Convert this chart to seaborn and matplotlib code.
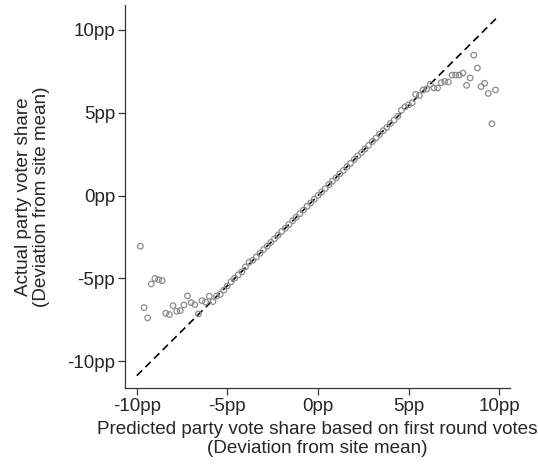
import pandas as pd
import matplotlib.pyplot as plt
import seaborn as sns

# binned predicted share (x) and actual share (y), in pp
pred_share = [-9.8, -9.6, -9.4, -9.2, -9.0, -8.8, -8.6, -8.4, -8.2, -8.0,
              -7.8, -7.6, -7.4, -7.2, -7.0, -6.8, -6.6, -6.4, -6.2, -6.0,
              -5.8, -5.6, -5.4, -5.2, -5.0, -4.8, -4.6, -4.4, -4.2, -4.0,
              -3.8, -3.6, -3.4, -3.2, -3.0, -2.8, -2.6, -2.4, -2.2, -2.0,
              -1.8, -1.6, -1.4, -1.2, -1.0, -0.8, -0.6, -0.4, -0.2, 0.0,
              0.2, 0.4, 0.6, 0.8, 1.0, 1.2, 1.4, 1.6, 1.8, 2.0,
              2.2, 2.4, 2.6, 2.8, 3.0, 3.2, 3.4, 3.6, 3.8, 4.0,
              4.2, 4.4, 4.6, 4.8, 5.0, 5.2, 5.4, 5.6, 5.8, 6.0,
              6.2, 6.4, 6.6, 6.8, 7.0, 7.2, 7.4, 7.6, 7.8, 8.0,
              8.2, 8.4, 8.6, 8.8, 9.0, 9.2, 9.4, 9.6, 9.8]
actual_share = [-3.05, -6.76, -7.38, -5.33, -5.0, -5.07, -5.13, -7.1, -7.18, -6.64,
                -6.98, -6.94, -6.6, -6.05, -6.46, -6.58, -7.14, -6.34, -6.42, -6.07,
                -6.4, -6.06, -5.96, -5.7, -5.45, -5.2, -4.98, -4.78, -4.6, -4.3,
                -4.02, -3.9, -3.7, -3.48, -3.25, -3.05, -2.82, -2.6, -2.38, -2.16,
                -1.97, -1.74, -1.52, -1.3, -1.09, -0.87, -0.64, -0.44, -0.21, 0.01,
                0.22, 0.43, 0.66, 0.87, 1.08, 1.32, 1.52, 1.74, 1.95, 2.18,
                2.4, 2.6, 2.82, 3.04, 3.27, 3.48, 3.7, 3.92, 4.12, 4.36,
                4.56, 4.79, 5.15, 5.36, 5.48, 5.6, 6.11, 6.05, 6.38, 6.44,
                6.72, 6.5, 6.5, 6.82, 6.9, 6.86, 7.28, 7.28, 7.28, 7.4,
                6.66, 7.1, 8.48, 7.7, 6.58, 6.78, 6.17, 4.34, 6.38]

# reference line end points
ref_x = [-10.0, 10.0]
ref_y = [-10.87, 10.87]

ticks = [-10, -5, 0, 5, 10]
tick_labels = ["-10pp", "-5pp", "0pp", "5pp", "10pp"]

df = pd.DataFrame({"pred": pred_share, "actual": actual_share})
ref = pd.DataFrame({"x": ref_x, "y": ref_y})

sns.set_style("ticks")
plt.rcParams['font.family'] = ['Liberation Sans', 'DejaVu Sans']
fs = 13.6

fig = plt.figure(figsize=(5.38, 4.65), dpi=100)
ax = fig.add_axes([0.232, 0.166, 0.716, 0.823])

sns.lineplot(data=ref, x="x", y="y", ax=ax, color="black", linewidth=1.2,
             linestyle=(0, (4.5, 2.8)))
sns.scatterplot(data=df, x="pred", y="actual", ax=ax, marker="o", s=16,
                facecolor="none", edgecolor="#8c8c8c", linewidth=0.9, zorder=3)

ax.set_xlim(-10.66, 10.6)
ax.set_ylim(-11.6, 11.5)
ax.set_xticks(ticks)
ax.set_xticklabels(tick_labels)
ax.set_yticks(ticks)
ax.set_yticklabels(tick_labels)
ax.tick_params(axis="both", length=5, width=0.9, color="#333333", labelsize=fs, pad=2)
for side in ["left", "bottom"]:
    ax.spines[side].set_linewidth(0.9)
    ax.spines[side].set_color("#333333")
sns.despine(ax=ax)

ax.set_xlabel("Predicted party vote share based on first round votes\n(Deviation from site mean)",
              fontsize=fs, linespacing=1.1, labelpad=5)
ax.set_ylabel("Actual party voter share\n(Deviation from site mean)",
              fontsize=fs, linespacing=1.1, labelpad=12)

fig.savefig("out.png", dpi=100)
